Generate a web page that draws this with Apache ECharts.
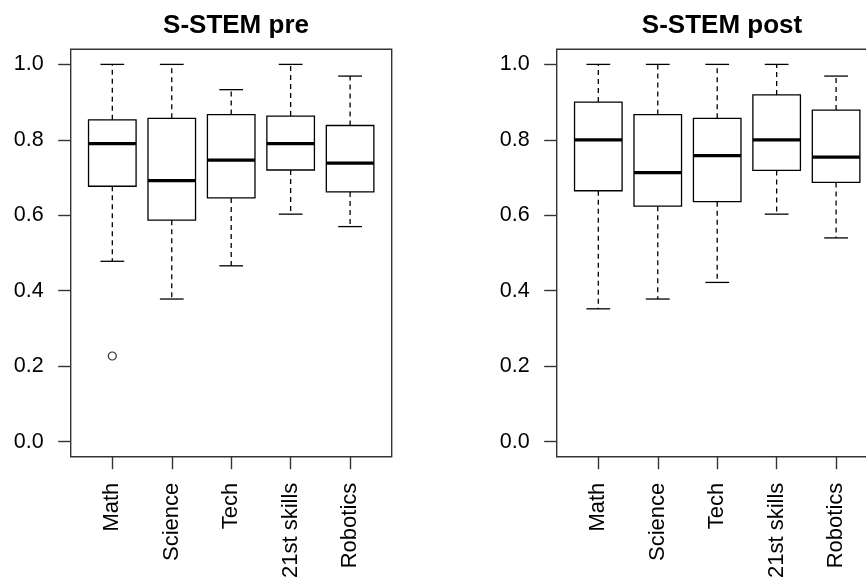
<!DOCTYPE html>
<html>
<head>
<meta charset="utf-8">
<title>S-STEM pre / post</title>
<script src="https://cdn.jsdelivr.net/npm/echarts@6/dist/echarts.min.js"></script>
<style>
  html, body { margin: 0; padding: 0; background: #fff; }
  #chart { width: 866px; height: 577px; }
</style>
</head>
<body>
<div id="chart"></div>
<script>
// Survey subscales (shown on the x axis)
const categories = ['Math', 'Science', 'Tech', '21st skills', 'Robotics'];

// Five-number summaries, pre survey
const preMin    = [0.478, 0.378, 0.466, 0.603, 0.570];
const preQ1     = [0.677, 0.587, 0.646, 0.720, 0.662];
const preMedian = [0.790, 0.692, 0.746, 0.790, 0.738];
const preQ3     = [0.853, 0.857, 0.867, 0.863, 0.838];
const preMax    = [1.000, 1.000, 0.933, 1.000, 0.969];
// Outliers, pre survey: [category position (1-based), value]
const preOutliers = [[1, 0.227]];

// Five-number summaries, post survey
const postMin    = [0.352, 0.378, 0.422, 0.603, 0.540];
const postQ1     = [0.665, 0.624, 0.636, 0.719, 0.687];
const postMedian = [0.800, 0.713, 0.758, 0.800, 0.754];
const postQ3     = [0.900, 0.867, 0.857, 0.919, 0.879];
const postMax    = [1.000, 1.000, 1.000, 1.000, 0.969];
const postOutliers = [];

// y tick labels
const yTicks = [0, 0.2, 0.4, 0.6, 0.8, 1.0];

const FONT = 'Liberation Sans, Arial, sans-serif';
const BOX_HALF = 0.4;   // half box width, in category units
const CAP_HALF = 0.2;   // half whisker-cap width

function boxRows(mins, q1s, meds, q3s, maxs) {
  return categories.map((_, i) => [i + 1, mins[i], q1s[i], meds[i], q3s[i], maxs[i]]);
}

function renderBox(params, api) {
  const x = api.value(0);
  const lo = api.value(1), q1 = api.value(2), md = api.value(3), q3 = api.value(4), hi = api.value(5);
  const c = api.coord([x, md]);
  const pLo = api.coord([x, lo]);
  const pQ1 = api.coord([x, q1]);
  const pQ3 = api.coord([x, q3]);
  const pHi = api.coord([x, hi]);
  const bl = api.coord([x - BOX_HALF, md])[0];
  const br = api.coord([x + BOX_HALF, md])[0];
  const cl = api.coord([x - CAP_HALF, md])[0];
  const cr = api.coord([x + CAP_HALF, md])[0];
  const solid = { stroke: '#000', lineWidth: 1.3, fill: null };
  const dashed = { stroke: '#000', lineWidth: 1.3, lineDash: [5, 4], fill: null };
  return {
    type: 'group',
    children: [
      { type: 'line', shape: { x1: c[0], y1: pQ3[1], x2: c[0], y2: pHi[1] }, style: dashed },
      { type: 'line', shape: { x1: c[0], y1: pQ1[1], x2: c[0], y2: pLo[1] }, style: dashed },
      { type: 'line', shape: { x1: cl, y1: pHi[1], x2: cr, y2: pHi[1] }, style: solid },
      { type: 'line', shape: { x1: cl, y1: pLo[1], x2: cr, y2: pLo[1] }, style: solid },
      { type: 'rect', shape: { x: bl, y: pQ3[1], width: br - bl, height: pQ1[1] - pQ3[1] }, style: solid },
      { type: 'line', shape: { x1: bl, y1: c[1], x2: br, y2: c[1] },
        style: { stroke: '#000', lineWidth: 3.2, lineCap: 'butt' } }
    ]
  };
}

function makeXAxis(idx) {
  return {
    type: 'value', gridIndex: idx, min: 0.3, max: 5.7, position: 'bottom',
    axisLine: { show: false, onZero: false },
    splitLine: { show: false },
    axisTick: { show: true, inside: false, customValues: [1, 2, 3, 4, 5], length: 12.5,
                lineStyle: { color: '#333', width: 1.4 } },
    axisLabel: { show: true, customValues: [1, 2, 3, 4, 5], rotate: 90, margin: 26,
                 formatter: v => categories[Math.round(v) - 1],
                 fontFamily: FONT, fontSize: 22, color: '#000' }
  };
}

function makeYAxis(idx) {
  return {
    type: 'value', gridIndex: idx, min: -0.04, max: 1.04, position: 'left',
    axisLine: { show: false, onZero: false },
    splitLine: { show: false },
    axisTick: { show: true, inside: false, customValues: yTicks, length: 12.5,
                lineStyle: { color: '#333', width: 1.4 } },
    axisLabel: { show: true, customValues: yTicks, margin: 27,
                 formatter: v => v.toFixed(1),
                 fontFamily: FONT, fontSize: 21.5, color: '#000' }
  };
}

// Plot frames keep their exact size even where labels run past the canvas edge
const gridStyle = { show: true, borderColor: '#333', borderWidth: 1.4, backgroundColor: 'transparent',
                    containLabel: false, outerBoundsMode: 'none' };

const chart = echarts.init(document.getElementById('chart'), null, { renderer: 'canvas' });
chart.setOption({
  animation: false,
  backgroundColor: '#fff',
  title: [
    { text: 'S-STEM pre', left: 231, top: 8, textAlign: 'center',
      textStyle: { fontFamily: FONT, fontWeight: 'bold', fontSize: 26, color: '#000' } },
    { text: 'S-STEM post', left: 717, top: 8, textAlign: 'center',
      textStyle: { fontFamily: FONT, fontWeight: 'bold', fontSize: 26, color: '#000' } }
  ],
  grid: [
    Object.assign({ left: 70.7, top: 49.3, width: 321, height: 407.4 }, gridStyle),
    Object.assign({ left: 556.7, top: 49.3, width: 321, height: 407.4 }, gridStyle)
  ],
  xAxis: [makeXAxis(0), makeXAxis(1)],
  yAxis: [makeYAxis(0), makeYAxis(1)],
  series: [
    { name: 'pre', type: 'custom', xAxisIndex: 0, yAxisIndex: 0,
      renderItem: renderBox, encode: { x: 0, y: [1, 2, 3, 4, 5] },
      data: boxRows(preMin, preQ1, preMedian, preQ3, preMax), silent: true },
    { name: 'pre outliers', type: 'scatter', xAxisIndex: 0, yAxisIndex: 0,
      symbol: 'circle', symbolSize: 8, data: preOutliers, silent: true,
      itemStyle: { color: 'transparent', borderColor: '#000', borderWidth: 1.2 } },
    { name: 'post', type: 'custom', xAxisIndex: 1, yAxisIndex: 1,
      renderItem: renderBox, encode: { x: 0, y: [1, 2, 3, 4, 5] },
      data: boxRows(postMin, postQ1, postMedian, postQ3, postMax), silent: true },
    { name: 'post outliers', type: 'scatter', xAxisIndex: 1, yAxisIndex: 1,
      symbol: 'circle', symbolSize: 8, data: postOutliers, silent: true,
      itemStyle: { color: 'transparent', borderColor: '#000', borderWidth: 1.2 } }
  ]
});
</script>
</body>
</html>
